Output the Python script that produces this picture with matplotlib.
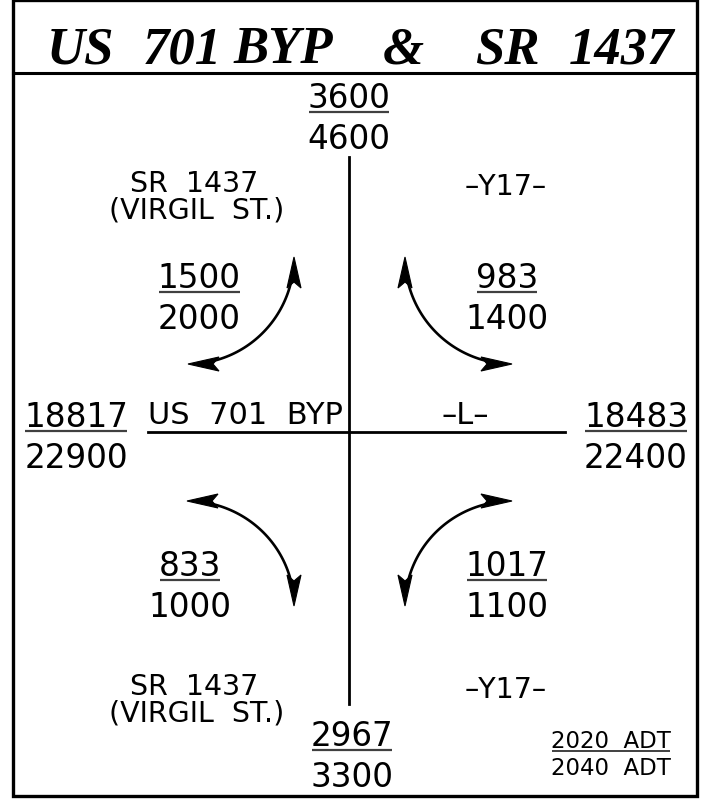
import numpy as np
import matplotlib
matplotlib.use("Agg")
import matplotlib.pyplot as plt
from matplotlib.patches import Polygon, Rectangle

# --- DATA (ADT volumes, 2020 over 2040) ---
title_parts = ["US", "701", "BYP", "&", "SR", "1437"]

approaches = ["north", "south", "west", "east"]
approach_2020 = [3600, 2967, 18817, 18483]
approach_2040 = [4600, 3300, 22900, 22400]

turns = ["nw", "ne", "sw", "se"]
turn_2020 = [1500, 983, 833, 1017]
turn_2040 = [2000, 1400, 1000, 1100]

road_main = "US  701  BYP"
road_main_tag = "–L–"
road_side = ["SR  1437", "(VIRGIL  ST.)"]
road_side_tag = "–Y17–"
legend_rows = ["2020  ADT", "2040  ADT"]

# --- layout (pixel space) ---
W, H = 719, 803
FONT = "DejaVu Sans"
FS = 23.5

approach_pos = {"north": (349, 113), "south": (352, 751),
                "west": (76, 432), "east": (636, 432)}
turn_pos = {"nw": (199, 293), "ne": (507, 293),
            "sw": (190, 581), "se": (507, 581)}
# arrow ends: (horizontal tip, vertical tip)
arrow_ends = {"nw": ((188, 365), (294, 258)),
              "ne": ((512, 365), (405, 258)),
              "sw": ((187, 502), (294, 607)),
              "se": ((512, 502), (405, 607))}
HEAD_LEN, HEAD_HW, NOTCH = 31, 7, 6

fig = plt.figure(figsize=(W / 100, H / 100), dpi=100)
ax = fig.add_axes([0, 0, 1, 1])
ax.set_xlim(0, W)
ax.set_ylim(H, 0)
ax.axis("off")


def fraction(ax, x, y, top, bottom, fs=FS, gap_top=5, gap_bot=36, lw=1.6):
    t1 = ax.text(x, y - gap_top, str(top), ha="center", va="baseline",
                 fontsize=fs, family=FONT)
    ax.text(x, y + gap_bot, str(bottom), ha="center", va="baseline",
            fontsize=fs, family=FONT)
    fig.canvas.draw()
    inv = ax.transData.inverted()
    bb = t1.get_window_extent()
    (x0, _), (x1, _) = inv.transform([[bb.x0, bb.y0], [bb.x1, bb.y1]])
    ax.plot([x0 + 1, x1 - 1], [y, y], color="#404040", lw=lw,
            solid_capstyle="butt")


def head(ax, tip, d):
    # dart shaped arrow head at tip, pointing along unit vector d
    tip = np.asarray(tip, float)
    d = np.asarray(d, float)
    n = np.array([-d[1], d[0]])
    base = tip - d * HEAD_LEN
    pts = [tip, base + n * HEAD_HW, tip - d * (HEAD_LEN - NOTCH), base - n * HEAD_HW]
    ax.add_patch(Polygon(pts, closed=True, fc="black", ec="black", lw=0.8))


# frame and title
ax.add_patch(Rectangle((13, 1), 684, 796, fill=False, lw=2.4, ec="black"))
ax.plot([13, 697], [74, 74], color="black", lw=2.2)

title_x = [80, 182, 283, 403, 507, 622]
for part, x in zip(title_parts, title_x):
    ax.text(x, 63, part, ha="center", va="baseline", fontsize=38,
            family="Liberation Serif", fontweight="bold", style="italic")

# roads
ax.plot([349, 349], [158, 705], color="black", lw=2.0)
ax.plot([148, 565], [433, 433], color="black", lw=2.0)

# volumes
for name, a, b in zip(approaches, approach_2020, approach_2040):
    x, y = approach_pos[name]
    fraction(ax, x, y, a, b)

for name, a, b in zip(turns, turn_2020, turn_2040):
    x, y = turn_pos[name]
    fraction(ax, x, y, a, b)

# turning arrows (quarter ellipses, heads at both ends)
for name in turns:
    (hx, hy), (vx, vy) = arrow_ends[name]
    sx, sy = np.sign(vx - hx), np.sign(hy - vy)
    # keep the curve short of the tips so it ends inside the heads
    hx2 = hx + sx * (HEAD_LEN - NOTCH)
    vy2 = vy + sy * (HEAD_LEN - NOTCH)
    th = np.linspace(0, np.pi / 2, 60)
    cx, cy = hx, vy
    rx, ry = vx - hx, hy - vy
    px = cx + rx * np.sin(th)
    py = cy + ry * np.cos(th)
    keep = (np.sign(px - hx2) != -sx) & (np.sign(vy2 - py) != sy)
    ax.plot(px[keep], py[keep], color="black", lw=1.9)
    head(ax, (hx, hy), (-sx, 0))
    head(ax, (vx, vy), (0, -sy))

# road names
ax.text(148, 424, road_main, ha="left", va="baseline", fontsize=22, family=FONT)
ax.text(465, 424, road_main_tag, ha="center", va="baseline", fontsize=22, family=FONT)
for y0 in (192, 695):
    ax.text(194, y0, road_side[0], ha="center", va="baseline", fontsize=20.5, family=FONT)
    ax.text(197, y0 + 27, road_side[1], ha="center", va="baseline", fontsize=20.5, family=FONT)
    ax.text(506, y0 + 3, road_side_tag, ha="center", va="baseline", fontsize=20.5, family=FONT)

# legend
fraction(ax, 611, 752, legend_rows[0], legend_rows[1], fs=16.5, gap_top=4, gap_bot=23, lw=1.4)

fig.savefig("out.png", dpi=100)
